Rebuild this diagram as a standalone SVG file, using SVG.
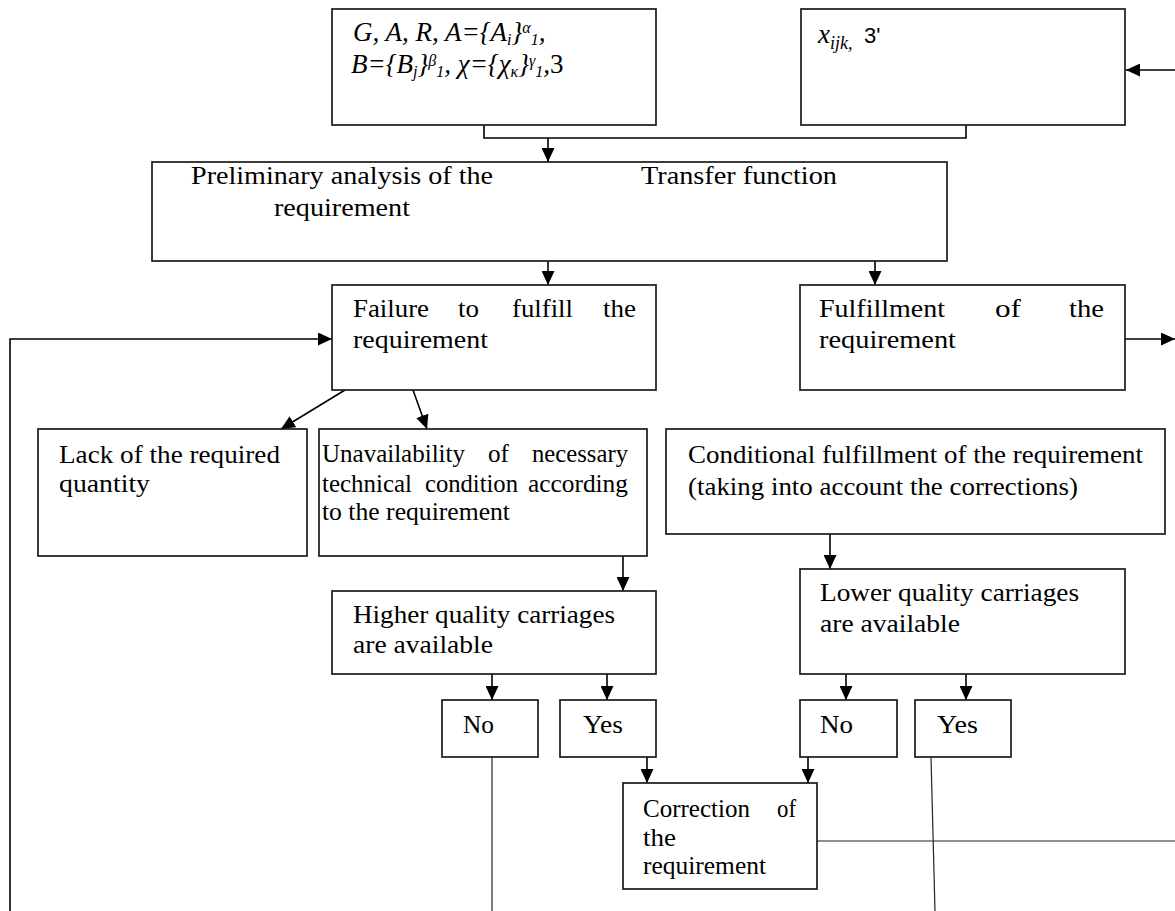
<svg xmlns="http://www.w3.org/2000/svg" width="1175" height="911" viewBox="0 0 1175 911">
<defs>
<marker id="ah" markerUnits="userSpaceOnUse" markerWidth="15" markerHeight="13" refX="14" refY="6.5" orient="auto">
<path d="M0,0 L14,6.5 L0,13 z" fill="#000"/>
</marker>
<style>
.box{fill:#fff;stroke:#1a1a1a;stroke-width:1.7}
.t{font-family:"Liberation Serif","Times New Roman",serif;font-size:26px;fill:#000}
.c{fill:none;stroke:#000;stroke-width:1.6}
.thin{fill:none;stroke:#222;stroke-width:1.2}
.ar{marker-end:url(#ah)}
.m{font-family:"Liberation Serif","Times New Roman",serif;font-size:27px;font-style:italic;fill:#000}
</style>
</defs>
<rect width="1175" height="911" fill="#fff"/>

<g id="connectors">
<line class="c ar" x1="1175" y1="70" x2="1126" y2="70"/>
<polyline class="c" points="484,125 484,138 966,138 966,125"/>
<line class="c ar" x1="548" y1="138" x2="548" y2="162"/>
<line class="c ar" x1="548" y1="162" x2="548" y2="285"/>
<line class="c ar" x1="875" y1="261" x2="875" y2="285"/>
<line class="c ar" x1="1125" y1="339" x2="1175" y2="339"/>
<polyline class="c ar" points="10,911 10,339 332,339"/>
<line class="c ar" x1="345" y1="390" x2="281" y2="429"/>
<line class="c ar" x1="413" y1="390" x2="427" y2="429"/>
<line class="c ar" x1="623" y1="556" x2="623" y2="591"/>
<line class="c ar" x1="830" y1="534" x2="830" y2="569"/>
<line class="c ar" x1="492" y1="674" x2="492" y2="700"/>
<line class="c ar" x1="607" y1="674" x2="607" y2="700"/>
<line class="c ar" x1="846" y1="674" x2="846" y2="700"/>
<line class="c ar" x1="966" y1="674" x2="966" y2="700"/>
<line class="thin" x1="492" y1="757" x2="492" y2="911"/>
<line class="c ar" x1="647" y1="757" x2="647" y2="783"/>
<line class="c ar" x1="808" y1="757" x2="808" y2="783"/>
<line class="thin" x1="817" y1="841" x2="1175" y2="841"/>
<line class="thin" x1="931" y1="757" x2="935" y2="911"/>
</g>

<g id="n-inputs">
<rect class="box" x="332" y="9" width="324" height="116"/>
<text class="m" x="353" y="41">G, A, R, A={A<tspan font-size="16" dy="4">i</tspan><tspan dy="-4">}</tspan><tspan font-size="16" dy="-8">α</tspan><tspan font-size="16" dy="12">1</tspan><tspan dy="-4">,</tspan></text>
<text class="m" x="351" y="73">B={B<tspan font-size="16" dy="4">j</tspan><tspan dy="-4">}</tspan><tspan font-size="16" dy="-7">β</tspan><tspan font-size="16" dy="11">1</tspan><tspan dy="-4">, χ={χ</tspan><tspan font-size="16" dy="4">κ</tspan><tspan dy="-4">}</tspan><tspan font-size="16" dy="-7">γ</tspan><tspan font-size="16" dy="11">1</tspan><tspan dy="-4">,</tspan><tspan font-style="normal">3</tspan></text>
</g>

<g id="n-xijk">
<rect class="box" x="801" y="9" width="324" height="116"/>
<text class="m" x="818" y="43">x<tspan font-size="18" dy="6">ijk,</tspan></text>
<text x="864" y="43" font-family="Liberation Sans, Arial, sans-serif" font-size="22" fill="#000">3'</text>
</g>

<g id="n-analysis">
<rect class="box" x="152" y="162" width="795" height="99"/>
<text class="t" x="191" y="184" textLength="302" lengthAdjust="spacingAndGlyphs">Preliminary analysis of the</text>
<text class="t" x="274" y="216" textLength="136" lengthAdjust="spacingAndGlyphs">requirement</text>
<text class="t" x="641" y="184" textLength="196" lengthAdjust="spacingAndGlyphs">Transfer function</text>
</g>

<g id="n-failure">
<rect class="box" x="332" y="285" width="324" height="105"/>
<text class="t" x="353" y="317" textLength="76" lengthAdjust="spacingAndGlyphs">Failure</text>
<text class="t" x="458" y="317" textLength="21" lengthAdjust="spacingAndGlyphs">to</text>
<text class="t" x="512" y="317" textLength="61" lengthAdjust="spacingAndGlyphs">fulfill</text>
<text class="t" x="603" y="317" textLength="33" lengthAdjust="spacingAndGlyphs">the</text>
<text class="t" x="353" y="348" textLength="135" lengthAdjust="spacingAndGlyphs">requirement</text>
</g>

<g id="n-fulfillment">
<rect class="box" x="800" y="285" width="325" height="105"/>
<text class="t" x="819" y="317" textLength="126" lengthAdjust="spacingAndGlyphs">Fulfillment</text>
<text class="t" x="995" y="317" textLength="26" lengthAdjust="spacingAndGlyphs">of</text>
<text class="t" x="1069" y="317" textLength="35" lengthAdjust="spacingAndGlyphs">the</text>
<text class="t" x="819" y="348" textLength="137" lengthAdjust="spacingAndGlyphs">requirement</text>
</g>

<g id="n-lack">
<rect class="box" x="38" y="429" width="269" height="127"/>
<text class="t" x="59" y="463" textLength="221" lengthAdjust="spacingAndGlyphs">Lack of the required</text>
<text class="t" x="59" y="492" textLength="91" lengthAdjust="spacingAndGlyphs">quantity</text>
</g>

<g id="n-unavailability">
<rect class="box" x="319" y="429" width="328" height="127"/>
<text class="t" x="322" y="462" textLength="143" lengthAdjust="spacingAndGlyphs">Unavailability</text>
<text class="t" x="488" y="462" textLength="21" lengthAdjust="spacingAndGlyphs">of</text>
<text class="t" x="532" y="462" textLength="96" lengthAdjust="spacingAndGlyphs">necessary</text>
<text class="t" x="322" y="492" textLength="90" lengthAdjust="spacingAndGlyphs">technical</text>
<text class="t" x="425" y="492" textLength="93" lengthAdjust="spacingAndGlyphs">condition</text>
<text class="t" x="528" y="492" textLength="100" lengthAdjust="spacingAndGlyphs">according</text>
<text class="t" x="322" y="520" textLength="188" lengthAdjust="spacingAndGlyphs">to the requirement</text>
</g>

<g id="n-conditional">
<rect class="box" x="666" y="429" width="499" height="105"/>
<text class="t" x="688" y="463" textLength="455" lengthAdjust="spacingAndGlyphs">Conditional fulfillment of the requirement</text>
<text class="t" x="688" y="495" textLength="390" lengthAdjust="spacingAndGlyphs">(taking into account the corrections)</text>
</g>

<g id="n-higher">
<rect class="box" x="332" y="591" width="324" height="83"/>
<text class="t" x="353" y="623" textLength="262" lengthAdjust="spacingAndGlyphs">Higher quality carriages</text>
<text class="t" x="353" y="653" textLength="140" lengthAdjust="spacingAndGlyphs">are available</text>
</g>

<g id="n-lower">
<rect class="box" x="800" y="569" width="325" height="105"/>
<text class="t" x="820" y="601" textLength="259" lengthAdjust="spacingAndGlyphs">Lower quality carriages</text>
<text class="t" x="820" y="632" textLength="140" lengthAdjust="spacingAndGlyphs">are available</text>
</g>

<g id="n-no1">
<rect class="box" x="442" y="700" width="96" height="57"/>
<text class="t" x="463" y="733" textLength="31" lengthAdjust="spacingAndGlyphs">No</text>
</g>
<g id="n-yes1">
<rect class="box" x="560" y="700" width="96" height="57"/>
<text class="t" x="583" y="733" textLength="40" lengthAdjust="spacingAndGlyphs">Yes</text>
</g>
<g id="n-no2">
<rect class="box" x="800" y="700" width="97" height="57"/>
<text class="t" x="820" y="733" textLength="33" lengthAdjust="spacingAndGlyphs">No</text>
</g>
<g id="n-yes2">
<rect class="box" x="915" y="700" width="96" height="57"/>
<text class="t" x="937" y="733" textLength="41" lengthAdjust="spacingAndGlyphs">Yes</text>
</g>

<g id="n-correction">
<rect class="box" x="623" y="783" width="194" height="106"/>
<text class="t" x="643" y="817" textLength="107" lengthAdjust="spacingAndGlyphs">Correction</text>
<text class="t" x="777" y="817" textLength="19" lengthAdjust="spacingAndGlyphs">of</text>
<text class="t" x="643" y="846" textLength="33" lengthAdjust="spacingAndGlyphs">the</text>
<text class="t" x="643" y="874" textLength="123" lengthAdjust="spacingAndGlyphs">requirement</text>
</g>
</svg>
